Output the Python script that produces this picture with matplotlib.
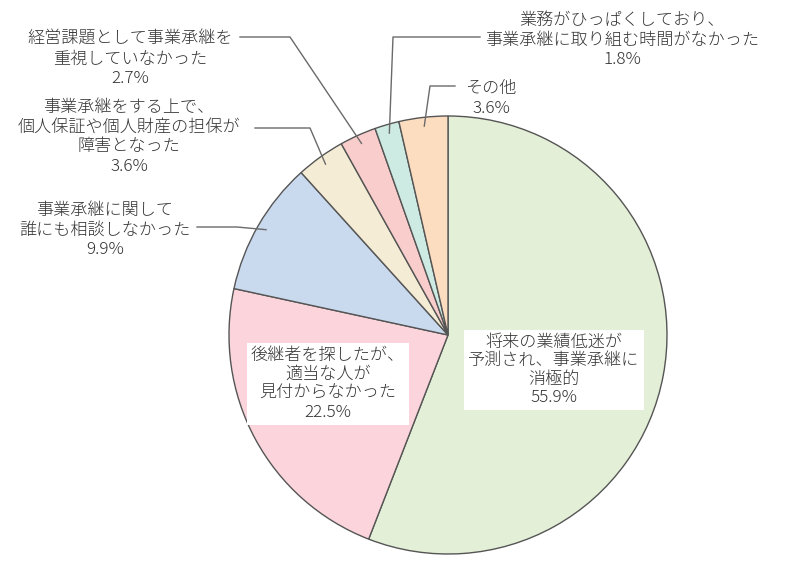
import matplotlib.pyplot as plt
import numpy as np

plt.rcParams['font.family'] = ['Noto Sans CJK JP', 'DejaVu Sans']

labels = [
    '将来の業績低迷が\n予測され、事業承継に\n消極的',
    '後継者を探したが、\n適当な人が\n見付からなかった',
    '事業承継に関して\n誰にも相談しなかった',
    '事業承継をする上で、\n個人保証や個人財産の担保が\n障害となった',
    '経営課題として事業承継を\n重視していなかった',
    '業務がひっぱくしており、\n事業承継に取り組む時間がなかった',
    'その他',
]
values = [55.9, 22.5, 9.9, 3.6, 2.7, 1.8, 3.6]
colors = ['#E3EFD6', '#FCD5DC', '#C9D9EE', '#F4ECD4', '#F9CDCB', '#CDEBE2', '#FCDDC0']

H = 564
txt = '#333333'
line = '#6a6a6a'
fs = 12.3

fig = plt.figure(figsize=(7.85, 5.64), dpi=100)
ax = fig.add_axes([0, 0, 1, 1])

cx, cy, r = 448, 335, 219
wedges, _ = ax.pie(values, colors=colors, startangle=90, counterclock=False,
                   center=(cx, H - cy), radius=r,
                   wedgeprops=dict(edgecolor='#555555', linewidth=1))
ax.set_xlim(0, 785)
ax.set_ylim(0, H)
ax.set_aspect('equal')
ax.axis('off')


def anchor(w, k=0.96):
    t = np.deg2rad((w.theta1 + w.theta2) / 2)
    return cx + k * r * np.cos(t), (H - cy) + k * r * np.sin(t)


def label_text(i, x, y, sp=1.2, **kw):
    # y = centre of the first line (pixels from top)
    s = labels[i] + '\n' + f'{values[i]:.1f}%'
    ax.text(x, H - y + 6, s, ha='center', va='top', fontsize=fs, color=txt,
            linespacing=sp, fontweight='light', **kw)


# outside labels: (index, elbow, line end, text center x, first line y)
outside = [
    (4, (290, 37), (240, 37), 130, 37),
    (3, (310, 128), (255, 128), 129, 105),
    (2, (237, 227), (197, 227), 105, 208),
    (5, (393, 37), (480, 37), 622, 18),
    (6, (430, 86), (455, 86), 491, 86),
]
for i, elbow, end, tx, ty in outside:
    ax0, ay0 = anchor(wedges[i])
    ax.plot([ax0, elbow[0], end[0]], [ay0, H - elbow[1], H - end[1]],
            color=line, linewidth=1)
    label_text(i, tx, ty)

# inside labels with white boxes
label_text(0, 554, 340, sp=1.1, bbox=dict(facecolor='white', edgecolor='none', pad=3))
label_text(1, 328, 353, sp=1.15, bbox=dict(facecolor='white', edgecolor='none', pad=3))

plt.savefig('out.png', dpi=100)
